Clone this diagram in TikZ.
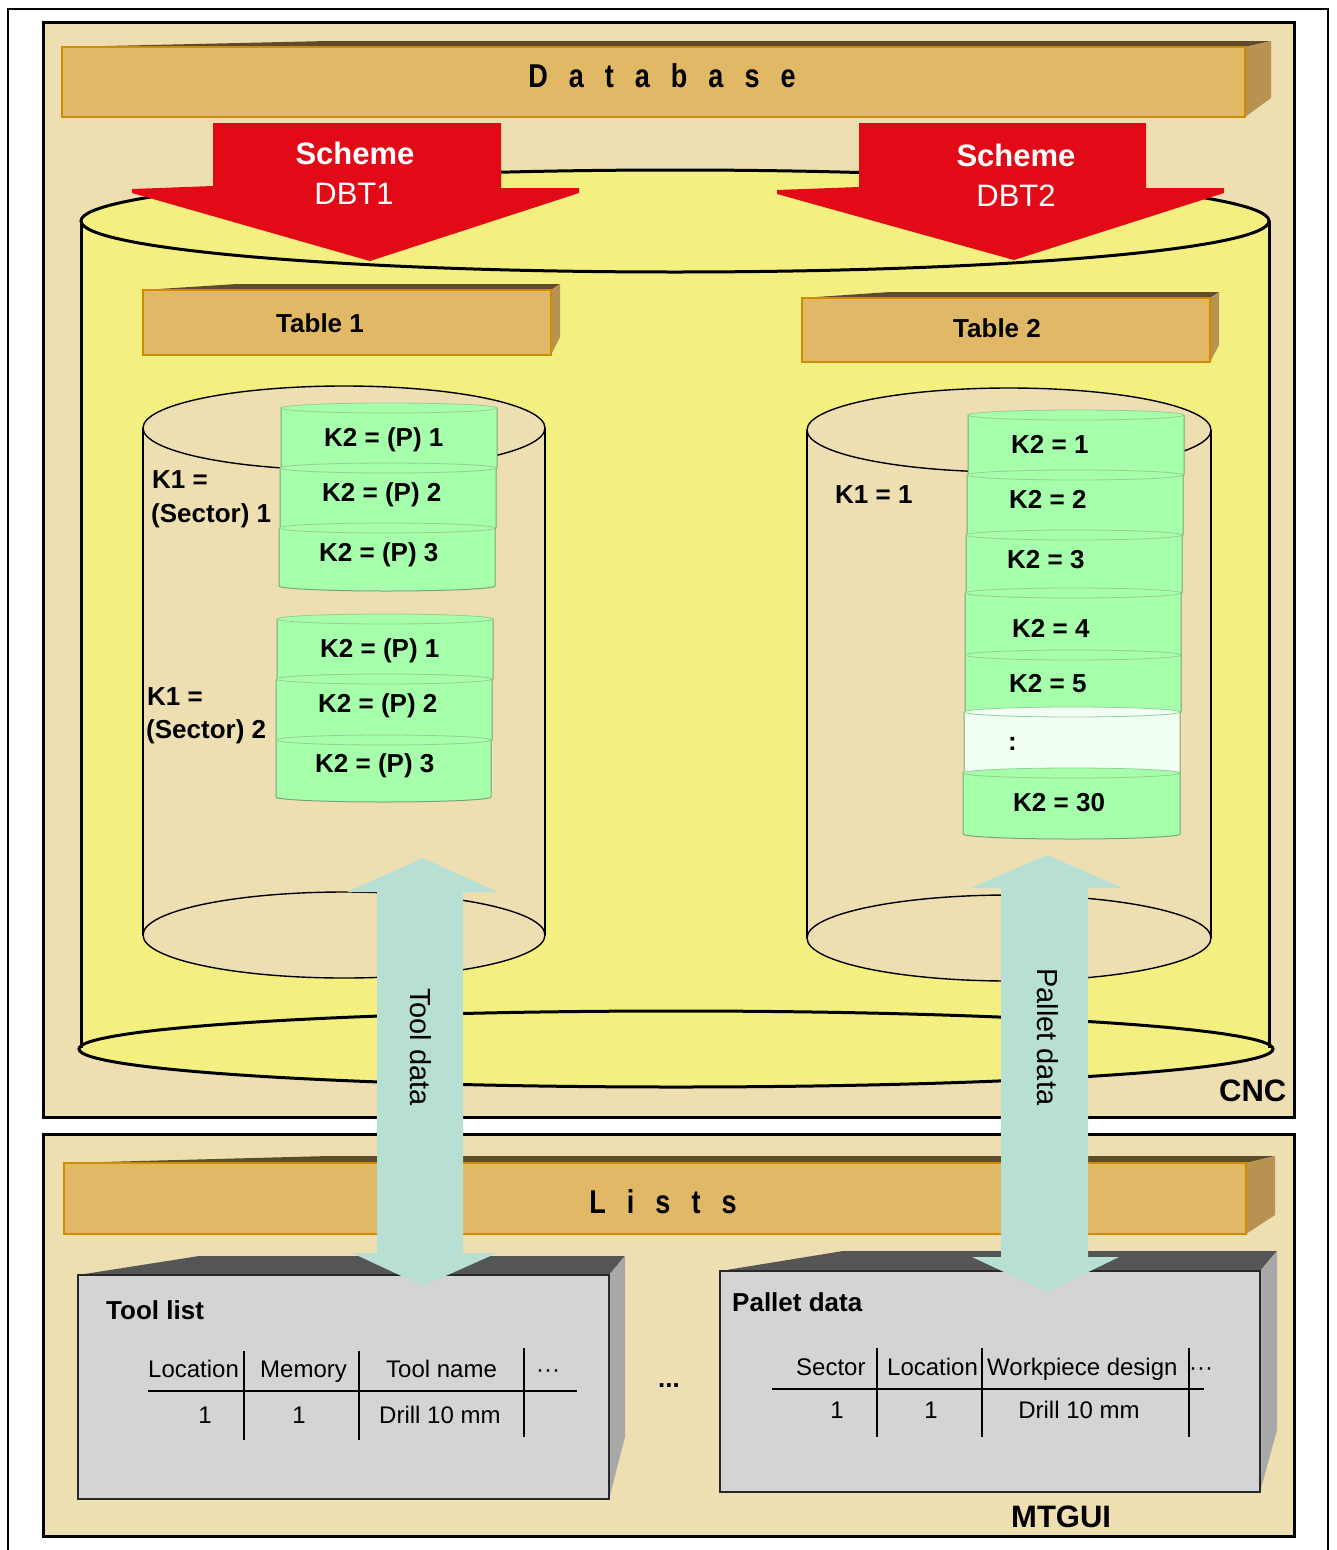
\documentclass[tikz,border=0pt]{standalone}
\usepackage{fontspec}
\setmainfont{Liberation Sans}
\definecolor{cncbg}{RGB}{238,223,179}
\definecolor{ylw}{RGB}{243,239,128}
\definecolor{barfront}{RGB}{225,184,102}
\definecolor{baredge}{RGB}{208,140,0}
\definecolor{bartop}{RGB}{94,75,43}
\definecolor{barside}{RGB}{184,146,80}
\definecolor{schemered}{RGB}{226,10,23}
\definecolor{grn}{RGB}{166,255,170}
\definecolor{grnline}{RGB}{120,165,120}
\definecolor{grntop}{RGB}{150,205,150}
\definecolor{grnpale}{RGB}{240,255,242}
\definecolor{tealarrow}{RGB}{184,223,212}
\definecolor{boxfront}{RGB}{212,212,212}
\definecolor{boxedge}{RGB}{40,40,40}
\definecolor{boxtop}{RGB}{85,85,85}
\definecolor{boxside}{RGB}{168,168,168}
\newcommand\fsz[1]{\fontsize{#1}{#1}\selectfont}
\newcommand\lsg{\hspace{25.6pt}}
% green disk: xl xr top bot colour
\newcommand\gdisk[5]{%
  \pgfmathsetmacro\gdrx{(#2-#1)/2}%
  \fill[#5] (#1,#3) -- (#1,#4) arc[start angle=180,end angle=0,x radius=\gdrx,y radius=5] -- (#2,#3) arc[start angle=0,end angle=-180,x radius=\gdrx,y radius=5] -- cycle;
  \draw[diskline] (#1,#3) -- (#1,#4) arc[start angle=180,end angle=0,x radius=\gdrx,y radius=5] -- (#2,#3);
  \draw[disktop] ({(#1+#2)/2},#3) ellipse[x radius=\gdrx,y radius=5];
}
% tan cylinder: cx ty by rx ryt ryb
\newcommand\tcyl[6]{%
  \fill[cncbg] ({#1-#4},#2) -- ({#1-#4},#3) arc[start angle=180,end angle=0,x radius=#4,y radius=#6] -- ({#1+#4},#2) arc[start angle=0,end angle=-180,x radius=#4,y radius=#5] -- cycle;
  \draw[cylline] ({#1-#4},#2) -- ({#1-#4},#3) ({#1+#4},#2) -- ({#1+#4},#3);
  \draw[cylline] (#1,#2) ellipse[x radius=#4,y radius=#5];
  \draw[cylline] (#1,#3) ellipse[x radius=#4,y radius=#6];
}
% 3d slab: x1 y1 x2 y2 xk dx dy ybr prefix
\newcommand\slab[9]{%
  \fill[#9top] (#1,#2) -- (#5,{#2-#7}) -- ({#3+#6},{#2-#7}) -- (#3,#2) -- cycle;
  \fill[#9side] (#3,#2) -- ({#3+#6},{#2-#7}) -- ({#3+#6},#8) -- (#3,#4) -- cycle;
  \filldraw[fill=#9front, draw=#9edge, line width=2.5] (#1,#2) rectangle (#3,#4);
}
\begin{document}
\begin{tikzpicture}[x=1pt,y=-1pt,
  diskline/.style={draw=grnline,line width=1},
  disktop/.style={draw=grntop,line width=0.8},
  cylline/.style={draw=black,line width=1.4},
  bigline/.style={draw=black,line width=3},
  lbl/.style={inner sep=0pt,font=\fsz{26}\bfseries},
  cell/.style={inner sep=0pt,font=\fsz{24}},
  tline/.style={line width=2,draw=black},
  redarrow/.style={fill=schemered},
  tarrow/.style={fill=tealarrow}]
\useasboundingbox (0,0) rectangle (1336,1550);
\fill[white] (0,0) rectangle (1336,1550);
% outer frame
\draw[line width=2.5] (8,9) rectangle (1328,1570);
% CNC box
\filldraw[fill=cncbg,draw=black,line width=3] (43,22) rectangle (1294,1117);
% MTGUI box
\filldraw[fill=cncbg,draw=black,line width=3] (43,1134) rectangle (1294,1536);

% big cylinder
\fill[ylw] (675,221) ellipse[x radius=594,y radius=51];
\fill[ylw] (81,221) rectangle (1269,1049);
\fill[ylw] (676,1049) ellipse[x radius=597,y radius=38];
\draw[bigline] (81,221) -- (81,1048) (1269,221) -- (1269,1048);
\draw[bigline] (675,221) ellipse[x radius=594,y radius=51];
\draw[bigline] (676,1049) ellipse[x radius=597,y radius=38];

% database bar
\slab{62}{47}{1245}{117}{328}{26}{6}{98}{bar}
\node[anchor=base,inner sep=0pt] (db) at (662,87) {\scalebox{0.82}[1]{\fsz{33}\bfseries D\lsg a\lsg t\lsg a\lsg b\lsg a\lsg s\lsg e}};

% scheme arrows
\fill[redarrow] (213,123) -- (501,123) -- (501,188) -- (579,188) -- (579,193) -- (370,261) -- (132,193) -- (132,189) -- (213,186) -- cycle;
\fill[redarrow] (859,123) -- (1146,123) -- (1146,188) -- (1224,188) -- (1224,193) -- (1014,260) -- (777,194) -- (777,190) -- (859,187) -- cycle;
\node[anchor=base,inner sep=0pt,text=white,font=\fsz{31}\bfseries] (s1) at (355,164) {Scheme};
\node[anchor=base,inner sep=0pt,text=white,font=\fsz{31}] (d1) at (354,204) {DBT1};
\node[anchor=base,inner sep=0pt,text=white,font=\fsz{31}\bfseries] (s2) at (1016,166) {Scheme};
\node[anchor=base,inner sep=0pt,text=white,font=\fsz{31}] (d2) at (1016,206) {DBT2};

% table bars
\slab{143}{290}{551}{355}{237}{9}{6}{337}{bar}
\node[lbl,anchor=base west] (t1) at (276,332) {Table 1};
\slab{802}{298}{1210}{362}{890}{9}{6}{345}{bar}
\node[lbl,anchor=base west] (t2) at (953,337) {Table 2};

% inner cylinders
\tcyl{344}{428}{935}{201}{42}{43}
\tcyl{1009}{430}{938}{202}{42}{43}

% left stacks
\gdisk{281}{497}{408}{468}{grn}
\gdisk{280}{496}{468}{528}{grn}
\gdisk{279}{495}{528}{586}{grn}
\gdisk{277}{493}{619}{679}{grn}
\gdisk{276}{492}{679}{740}{grn}
\gdisk{276}{491}{740}{797}{grn}
% right stack
\gdisk{968}{1184}{415}{475}{grn}
\gdisk{967}{1183}{475}{535}{grn}
\gdisk{966}{1182}{535}{593}{grn}
\gdisk{965}{1181}{593}{655}{grn}
\gdisk{965}{1181}{655}{712}{grn}
\gdisk{964}{1180}{712}{773}{grnpale}
\gdisk{963}{1180}{773}{834}{grn}

\node[lbl,anchor=base west] (a1) at (324,446) {K2 = (P) 1};
\node[lbl,anchor=base west] (a2) at (322,501) {K2 = (P) 2};
\node[lbl,anchor=base west] (a3) at (319,561) {K2 = (P) 3};
\node[lbl,anchor=base west] (b1) at (320,657) {K2 = (P) 1};
\node[lbl,anchor=base west] (b2) at (318,712) {K2 = (P) 2};
\node[lbl,anchor=base west] (b3) at (315,772) {K2 = (P) 3};
\node[lbl,anchor=base west] (k1a) at (152,488) {K1 =};
\node[lbl,anchor=base west] (k1b) at (151,522) {(Sector) 1};
\node[lbl,anchor=base west] (k2a) at (147,705) {K1 =};
\node[lbl,anchor=base west] (k2b) at (146,738) {(Sector) 2};
\node[lbl,anchor=base west] (k3) at (835,503) {K1 = 1};
\node[lbl,anchor=base west] (c1) at (1011,453) {K2 = 1};
\node[lbl,anchor=base west] (c2) at (1009,508) {K2 = 2};
\node[lbl,anchor=base west] (c3) at (1007,568) {K2 = 3};
\node[lbl,anchor=base west] (c4) at (1012,637) {K2 = 4};
\node[lbl,anchor=base west] (c5) at (1009,692) {K2 = 5};
\node[lbl,anchor=base west] (c6) at (1008,750) {:};
\node[lbl,anchor=base west] (c7) at (1013,811) {K2 = 30};

\node[anchor=base west,inner sep=0pt,font=\fsz{31}\bfseries] (cnc) at (1219,1101) {CNC};

% lists bar
\slab{64}{1163}{1246}{1234}{329}{29}{7}{1215}{bar}
\node[anchor=base,inner sep=0pt] (ls) at (663,1213) {\scalebox{0.82}[1]{\fsz{33}\bfseries L\lsg i\lsg s\lsg t\lsg s}};

% tool list box
\slab{78}{1275}{609}{1499}{199}{16}{19}{1437}{box}
\node[lbl,anchor=base west] (tl) at (106,1319) {Tool list};
\draw[tline] (148,1391) -- (577,1391);
\draw[tline] (244,1351) -- (244,1440);
\draw[tline] (359,1351) -- (359,1440);
\draw[tline] (524,1348) -- (524,1437);
\node[cell,anchor=base west] (h1) at (148,1377) {Location};
\node[cell,anchor=base west] (h2) at (260,1377) {Memory};
\node[cell,anchor=base west] (h3) at (386,1377) {Tool name};
\node[cell,anchor=base] (h4) at (548,1377) {···};
\node[cell,anchor=base] (r1) at (205,1423) {1};
\node[cell,anchor=base] (r2) at (299,1423) {1};
\node[cell,anchor=base west] (r3) at (379,1423) {Drill 10 mm};

\node[anchor=base,inner sep=0pt,font=\fsz{26}\bfseries] (mid) at (669,1387) {...};

% pallet data box
\slab{720}{1271}{1260}{1492}{843}{17}{20}{1430}{box}
\node[lbl,anchor=base west] (pd) at (732,1311) {Pallet data};
\draw[tline] (772,1389) -- (1204,1389);
\draw[tline] (877,1348) -- (877,1437);
\draw[tline] (982,1348) -- (982,1437);
\draw[tline] (1189,1348) -- (1189,1437);
\node[cell,anchor=base west] (p1) at (796,1375) {Sector};
\node[cell,anchor=base west] (p2) at (887,1375) {Location};
\node[cell,anchor=base west] (p3) at (987,1375) {Workpiece design};
\node[cell,anchor=base] (p4) at (1201,1375) {···};
\node[cell,anchor=base] (q1) at (837,1418) {1};
\node[cell,anchor=base] (q2) at (931,1418) {1};
\node[cell,anchor=base] (q3) at (1079,1418) {Drill 10 mm};

\node[anchor=base west,inner sep=0pt,font=\fsz{31}\bfseries] (mtgui) at (1011,1527) {MTGUI};

% teal arrows
\fill[tarrow] (423,858) -- (498,892) -- (463,892) -- (463,1253) -- (497,1253) -- (423,1286) -- (352,1253) -- (377,1253) -- (377,892) -- (347,892) -- cycle;
\fill[tarrow] (1047,855) -- (1123,888) -- (1088,888) -- (1088,1257) -- (1119,1257) -- (1047,1292) -- (972,1257) -- (1001,1257) -- (1001,888) -- (970,888) -- cycle;
\node[inner sep=0pt,anchor=base west,rotate=-90,font=\fsz{29}] (tdata) at (410,988) {Tool data};
\node[inner sep=0pt,anchor=base west,rotate=-90,font=\fsz{29}] (pdata) at (1037,968) {Pallet data};
\end{tikzpicture}
\end{document}
